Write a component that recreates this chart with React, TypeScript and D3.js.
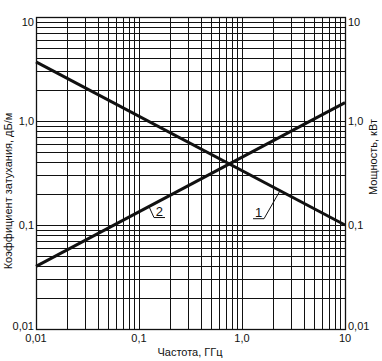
import React from 'react';
import * as d3 from 'd3';

// frequency range, GHz (log axis)
const freqGHz = [0.01, 10];
// curve 2: attenuation coefficient, dB/m
const attenuation = [0.04, 1.5];
// curve 1: power, kW
const power = [3.7, 0.1];

const xTicks = [0.01, 0.1, 1, 10];
const xTickLabels = ['0,01', '0,1', '1,0', '10'];
const yTicks = [0.01, 0.1, 1, 10];
const yTickLabels = ['0,01', '0,1', '1,0', '10'];

// where the callouts touch their curves (GHz)
const callouts = [
  { name: '2', at: 0.125, values: attenuation, dx: 5, dy: 11, side: 1 },
  { name: '1', at: 2.34, values: power, dx: -16, dy: 28, side: -1 },
];

const W = 382;
const H = 361;
const m = { left: 36, right: 37, top: 17, bottom: 32 };

const App: React.FC = () => {
  const x = d3.scaleLog().domain([0.01, 10]).range([m.left, W - m.right]);
  const y = d3.scaleLog().domain([0.01, 10]).range([H - m.bottom, m.top]);

  // minor + major grid values: 1..9 per decade
  const grid: number[] = [];
  for (let e = -2; e <= 1; e++) {
    for (let k = 1; k <= 9; k++) {
      const v = k * Math.pow(10, e);
      if (v >= 0.01 && v <= 10.0001) grid.push(v);
    }
  }

  const line = d3.line<number>()
    .x((_, i) => x(freqGHz[i]))
    .y(d => y(d));

  const valueAt = (vals: number[], f: number) => {
    const t = (Math.log10(f) - Math.log10(freqGHz[0])) / (Math.log10(freqGHz[1]) - Math.log10(freqGHz[0]));
    return Math.pow(10, Math.log10(vals[0]) + t * (Math.log10(vals[1]) - Math.log10(vals[0])));
  };

  const font = '"Liberation Sans", Arial, sans-serif';
  const x0 = x.range()[0], x1 = x.range()[1];
  const y0 = y.range()[0], y1 = y.range()[1];

  // top label sits under the frame line, bottom one rests on it
  const yDy = (i: number) => (i === 3 ? '0.85em' : i === 0 ? '0.05em' : '0.35em');

  return (
    <svg width={W} height={H} style={{ position: 'absolute', left: 0, top: 0, background: '#fff' }} fontFamily={font}>
      <g stroke="#111" strokeWidth={1} shapeRendering="crispEdges">
        {grid.map(v => (
          <line key={'v' + v} x1={Math.round(x(v)) + 0.5} x2={Math.round(x(v)) + 0.5} y1={y1} y2={y0} />
        ))}
        {grid.map(v => (
          <line key={'h' + v} x1={x0} x2={x1} y1={Math.round(y(v)) + 0.5} y2={Math.round(y(v)) + 0.5} />
        ))}
      </g>
      <rect x={x0 + 0.5} y={y1 + 0.5} width={x1 - x0} height={y0 - y1} fill="none" stroke="#111" strokeWidth={1.3} />

      <path d={line(attenuation) ?? ''} fill="none" stroke="#111" strokeWidth={3} />
      <path d={line(power) ?? ''} fill="none" stroke="#111" strokeWidth={3} />

      {callouts.map(c => {
        const px = x(c.at);
        const py = y(valueAt(c.values, c.at));
        const ex = px + c.dx;
        const ey = py + c.dy;
        const ux = c.side > 0 ? ex + 11 : ex - 11;
        return (
          <g key={c.name}>
            <polyline points={`${px},${py} ${ex},${ey} ${ux},${ey}`} fill="none" stroke="#111" strokeWidth={1} />
            <text x={(ex + ux) / 2} y={ey - 2} textAnchor="middle" fontSize={13} fill="#111">{c.name}</text>
          </g>
        );
      })}

      <g fontSize={11} fill="#111">
        {yTicks.map((v, i) => (
          <text key={'l' + v} x={x0 - 2} y={y(v)} dy={yDy(i)} textAnchor="end">{yTickLabels[i]}</text>
        ))}
        {yTicks.map((v, i) => (
          <text key={'r' + v} x={x1 + 3} y={y(v)} dy={yDy(i)} textAnchor="start">{yTickLabels[i]}</text>
        ))}
        {xTicks.map((v, i) => (
          <text key={'b' + v} x={x(v)} y={y0 + 13} textAnchor="middle">{xTickLabels[i]}</text>
        ))}
        <text x={190} y={356} textAnchor="middle">Частота, ГГц</text>
        <text transform={`translate(12,${(y0 + y1) / 2 + 18}) rotate(-90)`} textAnchor="middle">Коэффициент затухания, дБ/м</text>
        <text transform={`translate(377,157) rotate(-90)`} textAnchor="middle">Мощность, кВт</text>
      </g>
    </svg>
  );
};

export default App;
